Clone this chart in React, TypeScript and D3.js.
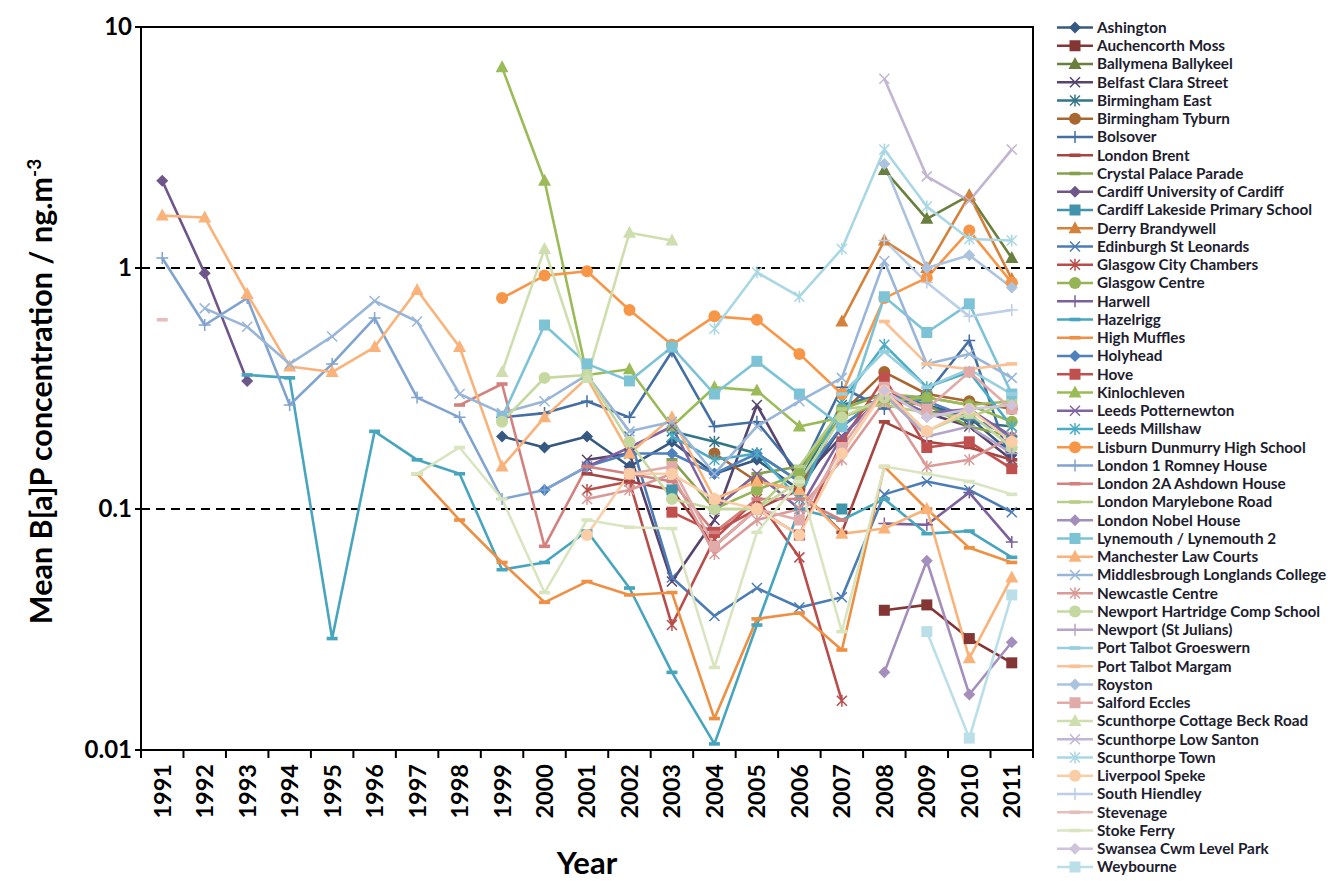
import React from "react";
import * as d3 from "d3";

const _ = null;

// years on the x axis
const years = d3.range(1991, 2012).map(String);

// site names (legend order)
const sites = [
  "Ashington", "Auchencorth Moss", "Ballymena Ballykeel", "Belfast Clara Street",
  "Birmingham East", "Birmingham Tyburn", "Bolsover", "London Brent",
  "Crystal Palace Parade", "Cardiff University of Cardiff", "Cardiff Lakeside Primary School",
  "Derry Brandywell", "Edinburgh St Leonards", "Glasgow City Chambers", "Glasgow Centre",
  "Harwell", "Hazelrigg", "High Muffles", "Holyhead", "Hove", "Kinlochleven",
  "Leeds Potternewton", "Leeds Millshaw", "Lisburn Dunmurry High School",
  "London 1 Romney House", "London 2A Ashdown House", "London Marylebone Road",
  "London Nobel House", "Lynemouth / Lynemouth 2", "Manchester Law Courts",
  "Middlesbrough Longlands College", "Newcastle Centre", "Newport Hartridge Comp School",
  "Newport (St Julians)", "Port Talbot Groeswern", "Port Talbot Margam", "Royston",
  "Salford Eccles", "Scunthorpe Cottage Beck Road", "Scunthorpe Low Santon",
  "Scunthorpe Town", "Liverpool Speke", "South Hiendley", "Stevenage", "Stoke Ferry",
  "Swansea Cwm Level Park", "Weybourne",
];

// mean B[a]P, ng/m3, 1991..2011
const ashington = [_, _, _, _, _, _, _, _, 0.2, 0.18, 0.2, 0.15, 0.19, 0.14, 0.16, 0.12, 0.22, 0.3, 0.27, 0.24, 0.17];
const auchencorth = [_, _, _, _, _, _, _, _, _, _, _, _, _, _, _, _, _, 0.038, 0.04, 0.029, 0.023];
const ballymena = [_, _, _, _, _, _, _, _, _, _, _, _, _, _, _, _, _, 2.55, 1.6, 2.0, 1.1];
const belfast = [_, _, _, _, _, _, _, _, _, _, 0.16, 0.17, 0.05, 0.09, 0.27, 0.13, 0.2, 0.3, 0.25, 0.22, 0.16];
const birminghamEast = [_, _, _, _, _, _, _, _, _, _, _, _, 0.21, 0.19, 0.17, 0.13, 0.27, 0.3, 0.27, 0.23, 0.22];
const birminghamTyburn = [_, _, _, _, _, _, _, _, _, _, _, _, _, 0.17, 0.13, 0.12, 0.25, 0.37, 0.3, 0.28, 0.26];
const bolsover = [_, _, _, _, _, _, _, _, 0.24, 0.25, 0.28, 0.24, 0.45, 0.22, 0.23, 0.14, 0.32, 0.26, 0.3, 0.5, 0.15];
const londonBrent = [_, _, _, _, _, _, _, _, _, _, 0.14, 0.13, 0.12, 0.07, 0.1, 0.12, 0.08, 0.23, 0.19, 0.18, 0.16];
const crystalPalace = [_, _, _, _, _, _, _, _, _, _, _, _, 0.16, 0.1, 0.14, 0.15, 0.24, 0.28, 0.27, 0.22, 0.2];
const cardiffUni = [2.3, 0.95, 0.34, _, _, _, _, _, _, _, _, _, _, _, _, _, _, _, _, _, _];
const cardiffLakeside = [_, _, _, _, _, _, _, _, _, _, _, _, 0.12, _, _, _, 0.1, _, _, _, _];
const derry = [_, _, _, _, _, _, _, _, _, _, _, _, _, _, _, _, 0.6, 1.3, 1.0, 2.0, 0.9];
const edinburgh = [_, _, _, _, _, _, _, _, _, _, _, 0.2, 0.052, 0.036, 0.047, 0.039, 0.043, 0.115, 0.13, 0.12, 0.097];
const glasgowCity = [_, _, _, _, _, _, _, _, _, _, 0.12, 0.13, 0.033, 0.075, 0.11, 0.063, 0.016, _, _, _, _];
const glasgowCentre = [_, _, _, _, _, _, _, _, _, _, _, _, _, 0.1, 0.12, 0.14, 0.26, 0.3, 0.29, 0.27, 0.23];
const harwell = [_, _, _, _, _, _, _, _, _, _, _, _, _, _, _, _, _, 0.087, 0.086, 0.117, 0.073];
const hazelrigg = [_, _, 0.36, 0.35, 0.029, 0.21, 0.16, 0.14, 0.056, 0.06, 0.081, 0.047, 0.021, 0.0106, 0.033, 0.1, 0.09, 0.11, 0.079, 0.081, 0.063];
const highMuffles = [_, _, _, _, _, _, 0.14, 0.09, 0.06, 0.041, 0.05, 0.044, 0.045, 0.0135, 0.035, 0.037, 0.026, 0.15, 0.1, 0.069, 0.06];
const holyhead = [_, _, _, _, _, _, _, _, _, 0.12, 0.15, 0.17, 0.17, 0.14, 0.17, 0.13, 0.22, 0.3, 0.28, 0.24, 0.2];
const hove = [_, _, _, _, _, _, _, _, _, _, _, _, 0.097, 0.08, 0.1, 0.078, 0.19, 0.35, 0.18, 0.19, 0.147];
const kinlochleven = [_, _, _, _, _, _, _, _, 6.8, 2.3, 0.36, 0.38, 0.22, 0.32, 0.31, 0.22, 0.24, 0.28, 0.29, 0.27, 0.28];
const leedsPotternewton = [_, _, _, _, _, _, _, _, _, _, 0.15, 0.18, 0.22, 0.1, 0.14, 0.1, 0.2, 0.3, 0.25, 0.26, 0.2];
const leedsMillshaw = [_, _, _, _, _, _, _, _, _, _, _, _, 0.2, 0.16, 0.17, 0.11, 0.28, 0.48, 0.32, 0.37, 0.22];
const lisburn = [_, _, _, _, _, _, _, _, 0.75, 0.93, 0.97, 0.67, 0.48, 0.63, 0.61, 0.44, 0.3, 0.75, 0.91, 1.43, 0.87];
const london1 = [1.1, 0.58, 0.75, 0.27, 0.4, 0.62, 0.29, 0.24, 0.11, 0.12, 0.15, _, _, _, _, _, _, _, _, _, _];
const london2A = [_, _, _, _, _, _, _, 0.27, 0.33, 0.07, 0.15, 0.14, 0.13, 0.08, 0.11, 0.11, 0.09, _, _, _, _];
const marylebone = [_, _, _, _, _, _, _, _, _, _, _, _, _, 0.1, 0.1, 0.15, 0.26, 0.27, 0.25, 0.24, 0.28];
const nobel = [_, _, _, _, _, _, _, _, _, _, _, _, _, _, _, _, _, 0.021, 0.061, 0.017, 0.028];
const lynemouth = [_, _, _, _, _, _, _, _, 0.24, 0.58, 0.4, 0.34, 0.47, 0.3, 0.41, 0.3, 0.22, 0.76, 0.54, 0.71, 0.3];
const manchester = [1.65, 1.62, 0.78, 0.39, 0.37, 0.47, 0.81, 0.47, 0.15, 0.24, 0.35, 0.17, 0.24, 0.11, 0.13, 0.12, 0.079, 0.083, 0.1, 0.024, 0.052];
const middlesbrough = [_, 0.68, 0.57, 0.4, 0.52, 0.73, 0.6, 0.3, 0.25, 0.28, 0.36, 0.21, 0.23, 0.14, 0.22, 0.28, 0.35, 1.07, 0.4, 0.44, 0.35];
const newcastle = [_, _, _, _, _, _, _, _, _, _, 0.11, 0.12, 0.14, 0.065, 0.09, 0.1, 0.16, 0.28, 0.15, 0.16, 0.2];
const newportHartridge = [_, _, _, _, _, _, _, _, 0.23, 0.35, 0.36, 0.19, 0.11, 0.1, 0.1, 0.13, 0.24, 0.29, 0.21, 0.25, 0.18];
const newportStJulians = [_, _, _, _, _, _, _, _, _, _, _, _, _, _, _, _, _, 0.3, 0.2, 0.22, 0.17];
const ptGroeswern = [_, _, _, _, _, _, _, _, _, _, _, _, _, _, _, _, 0.3, 0.45, 0.32, 0.38, 0.3];
const ptMargam = [_, _, _, _, _, _, _, _, _, _, _, _, _, _, _, _, _, 0.6, 0.4, 0.38, 0.4];
const royston = [_, _, _, _, _, _, _, _, _, _, _, _, _, _, _, _, _, 2.7, 1.0, 1.13, 0.83];
const salford = [_, _, _, _, _, _, _, _, _, _, _, 0.14, 0.15, 0.07, 0.1, 0.09, 0.18, 0.32, 0.26, 0.37, 0.26];
const scunthorpeCottage = [_, _, _, _, _, _, _, _, 0.37, 1.2, 0.35, 1.4, 1.3, _, _, _, _, _, _, _, _];
const lowSanton = [_, _, _, _, _, _, _, _, _, _, _, _, _, _, _, _, _, 6.1, 2.4, 1.9, 3.1];
const scunthorpeTown = [_, _, _, _, _, _, _, _, _, _, _, _, _, 0.56, 0.96, 0.76, 1.2, 3.1, 1.8, 1.32, 1.3];
const liverpool = [_, _, _, _, _, _, _, _, _, _, 0.078, 0.14, 0.14, 0.11, 0.1, 0.078, 0.17, 0.31, 0.21, 0.26, 0.19];
const southHiendley = [_, _, _, _, _, _, _, _, _, _, _, _, _, _, _, _, _, 1.3, 0.87, 0.63, 0.67];
const stevenage = [0.61, _, _, _, _, _, _, _, _, _, _, _, _, _, _, _, _, _, _, _, _];
const stokeFerry = [_, _, _, _, _, _, 0.14, 0.18, 0.11, 0.045, 0.09, 0.084, 0.083, 0.022, 0.08, 0.13, 0.031, 0.15, 0.14, 0.13, 0.115];
const swansea = [_, _, _, _, _, _, _, _, _, _, _, _, _, _, _, _, _, 0.31, 0.24, 0.26, 0.27];
const weybourne = [_, _, _, _, _, _, _, _, _, _, _, _, _, _, _, _, _, _, 0.031, 0.0112, 0.044];

const values = [
  ashington, auchencorth, ballymena, belfast, birminghamEast, birminghamTyburn, bolsover,
  londonBrent, crystalPalace, cardiffUni, cardiffLakeside, derry, edinburgh, glasgowCity,
  glasgowCentre, harwell, hazelrigg, highMuffles, holyhead, hove, kinlochleven,
  leedsPotternewton, leedsMillshaw, lisburn, london1, london2A, marylebone, nobel,
  lynemouth, manchester, middlesbrough, newcastle, newportHartridge, newportStJulians,
  ptGroeswern, ptMargam, royston, salford, scunthorpeCottage, lowSanton, scunthorpeTown,
  liverpool, southHiendley, stevenage, stokeFerry, swansea, weybourne,
];

const yTicks = [0.01, 0.1, 1, 10];

// office-style palette, shaded per group of six
const baseColors = ["#4F81BD", "#C0504D", "#9BBB59", "#8064A2", "#4BACC6", "#F79646"];
const shades = [-0.32, -0.14, -0.04, 0, 0.28, 0.42, 0.52, 0.62];
const markerCycle = ["diamond", "square", "triangle", "x", "star", "circle", "plus", "dash", "dash"];

function colorOf(i: number) {
  const base = baseColors[i % 6];
  const s = shades[Math.floor(i / 6)];
  return s < 0 ? d3.interpolateRgb(base, "#000")(-s) : d3.interpolateRgb(base, "#fff")(s);
}

const FONT = "Lato, 'Open Sans', sans-serif";

function Marker({ type, x, y, color }: { type: string; x: number; y: number; color: string }) {
  switch (type) {
    case "diamond":
      return <path d={`M${x},${y - 6}L${x + 6},${y}L${x},${y + 6}L${x - 6},${y}Z`} fill={color} />;
    case "square":
      return <rect x={x - 5.5} y={y - 5.5} width={11} height={11} fill={color} />;
    case "triangle":
      return <path d={`M${x},${y - 7}L${x + 6.5},${y + 5}L${x - 6.5},${y + 5}Z`} fill={color} />;
    case "x":
      return (
        <path d={`M${x - 5},${y - 5}L${x + 5},${y + 5}M${x - 5},${y + 5}L${x + 5},${y - 5}`}
          stroke={color} strokeWidth={1.5} />
      );
    case "star":
      return (
        <path d={`M${x - 5},${y - 5}L${x + 5},${y + 5}M${x - 5},${y + 5}L${x + 5},${y - 5}M${x},${y - 6}L${x},${y + 6}`}
          stroke={color} strokeWidth={1.5} />
      );
    case "circle":
      return <circle cx={x} cy={y} r={6} fill={color} />;
    case "plus":
      return <path d={`M${x - 6},${y}L${x + 6},${y}M${x},${y - 6}L${x},${y + 6}`} stroke={color} strokeWidth={1.5} />;
    default:
      return <rect x={x - 5.5} y={y - 1.8} width={11} height={3.6} fill={color} />;
  }
}

export default function App() {
  const left = 141, right = 1033, top = 27, bottom = 750;
  const x = d3.scaleBand<string>().domain(years).range([left, right]);
  const y = d3.scaleLog().domain([0.01, 10]).range([bottom, top]);
  const cx = (yr: string) => (x(yr) as number) + x.bandwidth() / 2;

  const line = d3
    .line<number | null>()
    .defined((d) => d != null)
    .x((_d, i) => cx(years[i]))
    .y((d) => y(d as number));

  const bounds = years.map((yr) => x(yr) as number).concat([right]);

  return (
    <svg width={1333} height={881} style={{ position: "absolute", left: 0, top: 0 }} fontFamily={FONT}>
      <rect width={1333} height={881} fill="#fff" />

      {/* grid at 0.1 and 1 */}
      {[0.1, 1].map((t) => (
        <line key={t} x1={left} x2={right} y1={y(t)} y2={y(t)} stroke="#000" strokeWidth={2} strokeDasharray="9,6" />
      ))}

      {/* series */}
      {values.map((vals, i) => (
        <path key={sites[i]} d={line(vals) || ""} fill="none" stroke={colorOf(i)} strokeWidth={2.6} strokeLinejoin="round" />
      ))}
      {values.map((vals, i) =>
        vals.map((v, j) =>
          v == null ? null : (
            <Marker key={`${i}-${j}`} type={markerCycle[i % 9]} x={cx(years[j])} y={y(v)} color={colorOf(i)} />
          )
        )
      )}

      {/* frame & axes */}
      <rect x={left} y={top} width={right - left} height={bottom - top} fill="none" stroke="#000" strokeWidth={2} />
      {bounds.map((b, i) => (
        <line key={i} x1={b} x2={b} y1={bottom} y2={bottom + 8} stroke="#000" strokeWidth={2} />
      ))}
      {yTicks.map((t) => (
        <g key={t}>
          <line x1={left - 6} x2={left} y1={y(t)} y2={y(t)} stroke="#000" strokeWidth={2} />
          <text x={left - 9} y={y(t)} dy="0.35em" textAnchor="end" fontSize={24} fontWeight="bold">
            {String(t)}
          </text>
        </g>
      ))}
      {years.map((yr) => (
        <text key={yr} transform={`translate(${cx(yr)},${bottom + 14}) rotate(-90)`} dy="0.36em"
          textAnchor="end" fontSize={23.5} fontWeight="bold">
          {yr}
        </text>
      ))}

      <text x={(left + right) / 2} y={874} textAnchor="middle" fontSize={31} fontWeight="bold">Year</text>
      <text transform={`translate(52,${(top + bottom) / 2 + 3}) rotate(-90)`} textAnchor="middle" fontSize={30.5} fontWeight="bold">
        Mean B[a]P concentration / ng.m<tspan dy={-11} fontSize={19}>-3</tspan>
      </text>

      {/* legend */}
      {sites.map((s, i) => {
        const ly = 27.5 + i * 18.25;
        const c = colorOf(i);
        return (
          <g key={s}>
            <line x1={1057} x2={1093} y1={ly} y2={ly} stroke={c} strokeWidth={2.6} />
            <Marker type={markerCycle[i % 9]} x={1075} y={ly} color={c} />
            <text x={1097} y={ly} dy="0.35em" fontSize={15.3} fontWeight="bold" fill="#1d1d2e">
              {s}
            </text>
          </g>
        );
      })}
    </svg>
  );
}
